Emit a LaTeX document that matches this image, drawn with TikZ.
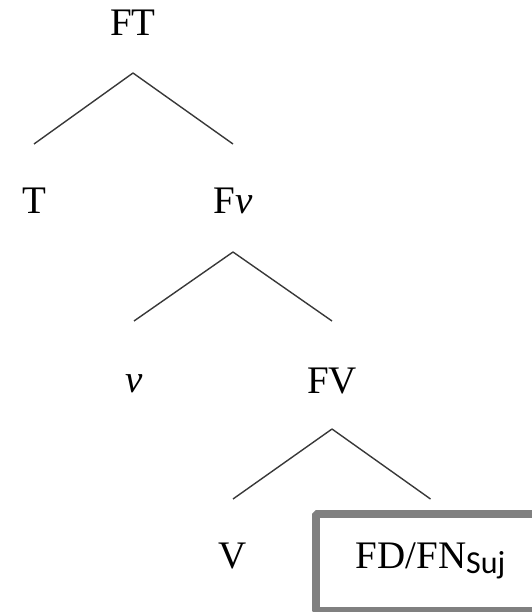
\documentclass[tikz,border=0pt]{standalone}
\usepackage{fontspec}
\setmainfont{Liberation Serif}
\newfontfamily\subfont{Carlito}
\usepackage{tikz}
\definecolor{edgecol}{rgb}{0.22,0.22,0.22}
\definecolor{boxcol}{rgb}{0.5,0.5,0.5}
\tikzset{
  catnode/.style={anchor=base,inner sep=0pt,text height=26bp,text depth=0bp,
    font=\fontsize{39bp}{44bp}\selectfont},
  subjbox/.style={catnode,draw=boxcol,line width=8bp,minimum width=230bp,
    minimum height=97bp,text depth=15bp},
  treeline/.style={draw=edgecol,line width=1.4bp},
}
\newcommand{\nuit}{\textit{ν}}
\newcommand{\sujsub}[1]{\raisebox{-5bp}{\subfont\fontsize{32bp}{32bp}\selectfont #1}}

\begin{document}
\begin{tikzpicture}[x=1bp,y=-1bp,line join=bevel]
  \useasboundingbox (0,0) rectangle (532,612);
%%
  % Node: FT
  \node[catnode] (FT) at (133,36) {FT};
  % Node: T
  \node[catnode] (T) at (34,213) {T};
  % Node: Fv
  \node[catnode] (Fv) at (233,213) {F\nuit};
  % Node: v
  \node[catnode] (v) at (134,392) {\nuit};
  % Node: FV
  \node[catnode] (FV) at (332,393) {FV};
  % Node: V
  \node[catnode] (V) at (233,568) {V};
  % Node: FD/FN (boxed)
  \node[subjbox] (FD) at (430.5,568) {FD/FN\sujsub{Suj}};
%%
  % Edge: FT -> T
  \draw[treeline] ([yshift=-37bp]FT.base) -- ([yshift=69bp]T.base);
  % Edge: FT -> Fv
  \draw[treeline] ([yshift=-37bp]FT.base) -- ([yshift=69bp]Fv.base);
  % Edge: Fv -> v
  \draw[treeline] ([yshift=-39bp]Fv.base) -- ([yshift=71bp]v.base);
  % Edge: Fv -> FV
  \draw[treeline] ([yshift=-39bp]Fv.base) -- ([yshift=72bp]FV.base);
  % Edge: FV -> V
  \draw[treeline] ([yshift=-36bp]FV.base) -- ([yshift=69bp]V.base);
  % Edge: FV -> FD
  \draw[treeline] ([yshift=-36bp]FV.base) -- ([yshift=69bp]FD.base);
%
\end{tikzpicture}
\end{document}
